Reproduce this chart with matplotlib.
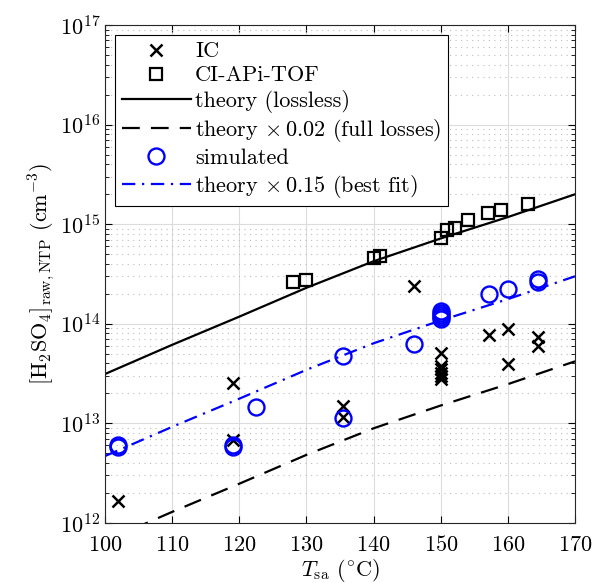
import numpy as np
import matplotlib
matplotlib.use('Agg')
import matplotlib.pyplot as plt
from matplotlib.ticker import LogLocator, NullFormatter

plt.rcParams['font.family'] = 'serif'
plt.rcParams['font.serif'] = ['cmr10', 'DejaVu Serif']
plt.rcParams['mathtext.fontset'] = 'cm'
plt.rcParams['axes.formatter.use_mathtext'] = True

# IC measurements
ic_T = [102, 119, 119, 135.5, 135.5, 146, 150, 150, 150, 150, 150, 150,
        157.2, 160, 160, 164.5, 164.5]
ic_c = [1.65e12, 2.55e13, 6.8e12, 1.51e13, 1.15e13, 2.4e14, 5.1e13, 3.8e13,
        3.5e13, 3.2e13, 3.0e13, 2.8e13, 7.8e13, 8.9e13, 3.96e13, 7.4e13, 6.0e13]

# CI-APi-TOF measurements
ci_T = [128, 130, 140, 141, 150, 150.9, 152.1, 154, 157, 159, 163]
ci_c = [2.6e14, 2.77e14, 4.56e14, 4.82e14, 7.24e14, 8.7e14, 9.26e14,
        1.1e15, 1.3e15, 1.38e15, 1.58e15]

# simulated
sim_T = [102, 102, 119, 119, 122.5, 135.5, 135.5, 146, 150, 150, 150, 150, 150,
         157.2, 160, 164.5, 164.5]
sim_c = [6.1e12, 5.8e12, 6.0e12, 5.8e12, 1.46e13, 4.72e13, 1.14e13, 6.28e13,
         1.35e14, 1.28e14, 1.22e14, 1.16e14, 1.12e14, 1.99e14, 2.25e14,
         2.8e14, 2.6e14]

# theory (lossless)
th_T = [100, 110, 120, 130, 140, 150, 160, 170]
th_c = [3.13e13, 6.15e13, 1.18e14, 2.3e14, 4.25e14, 7.2e14, 1.18e15, 2.0e15]
f_loss = 0.021
f_fit = 0.15

fig = plt.figure(figsize=(5.95, 5.83), dpi=100)
ax = fig.add_axes([0.1765, 0.103, 0.79, 0.854])

ax.semilogy(ic_T, ic_c, 'x', color='k', ms=8, mew=1.8, label='IC')
ax.semilogy(ci_T, ci_c, 's', mfc='none', mec='k', ms=9, mew=1.6, label='CI-APi-TOF')
ax.semilogy(th_T, th_c, '-', color='k', lw=1.6, label='theory (lossless)')
ax.semilogy(th_T, np.array(th_c) * f_loss, '--', color='k', lw=1.6, dashes=(8, 5),
            label=r'theory $\times\,0.02$ (full losses)')
ax.semilogy(sim_T, sim_c, 'o', mfc='none', mec=(0, 0, 1), ms=11.5, mew=1.7,
            label='simulated')
ax.semilogy(th_T, np.array(th_c) * f_fit, '-.', color=(0, 0, 1), lw=1.6,
            dashes=(6, 3, 1, 3), label=r'theory $\times\,0.15$ (best fit)')

ax.set_xlim(100, 170)
ax.set_ylim(1e12, 1e17)
ax.set_xticks(np.arange(100, 171, 10))
ax.yaxis.set_major_locator(LogLocator(base=10, numticks=10))
ax.yaxis.set_minor_locator(LogLocator(base=10, subs=np.arange(2, 10), numticks=20))
ax.yaxis.set_minor_formatter(NullFormatter())

ax.grid(which='major', color='#dcdcdc', lw=0.8)
ax.grid(which='minor', axis='y', color='#bdbdbd', ls=(0, (1, 4)), lw=0.8)
ax.set_axisbelow(True)
ax.tick_params(which='both', direction='in', top=True, right=True, labelsize=16)
ax.tick_params(which='major', length=5)
ax.tick_params(which='minor', length=3)
ax.tick_params(axis='x', pad=9)
for s in ax.spines.values():
    s.set_color('#262626')

ax.set_xlabel(r'$T_{\mathrm{sa}}$ ($^{\circ}$C)', fontsize=16, labelpad=1)
ax.set_ylabel(r'$[\mathrm{H_2SO_4}]_{\mathrm{raw,NTP}}$ (cm$^{-3}$)', fontsize=16,
              labelpad=2)

leg = ax.legend(loc='upper left', fontsize=16, handlelength=3.1, fancybox=False,
                framealpha=1, edgecolor='k', borderaxespad=0.45, labelspacing=0.2,
                borderpad=0.3, handletextpad=0.2)
leg.get_frame().set_linewidth(0.8)

fig.savefig('out.png', dpi=100)
